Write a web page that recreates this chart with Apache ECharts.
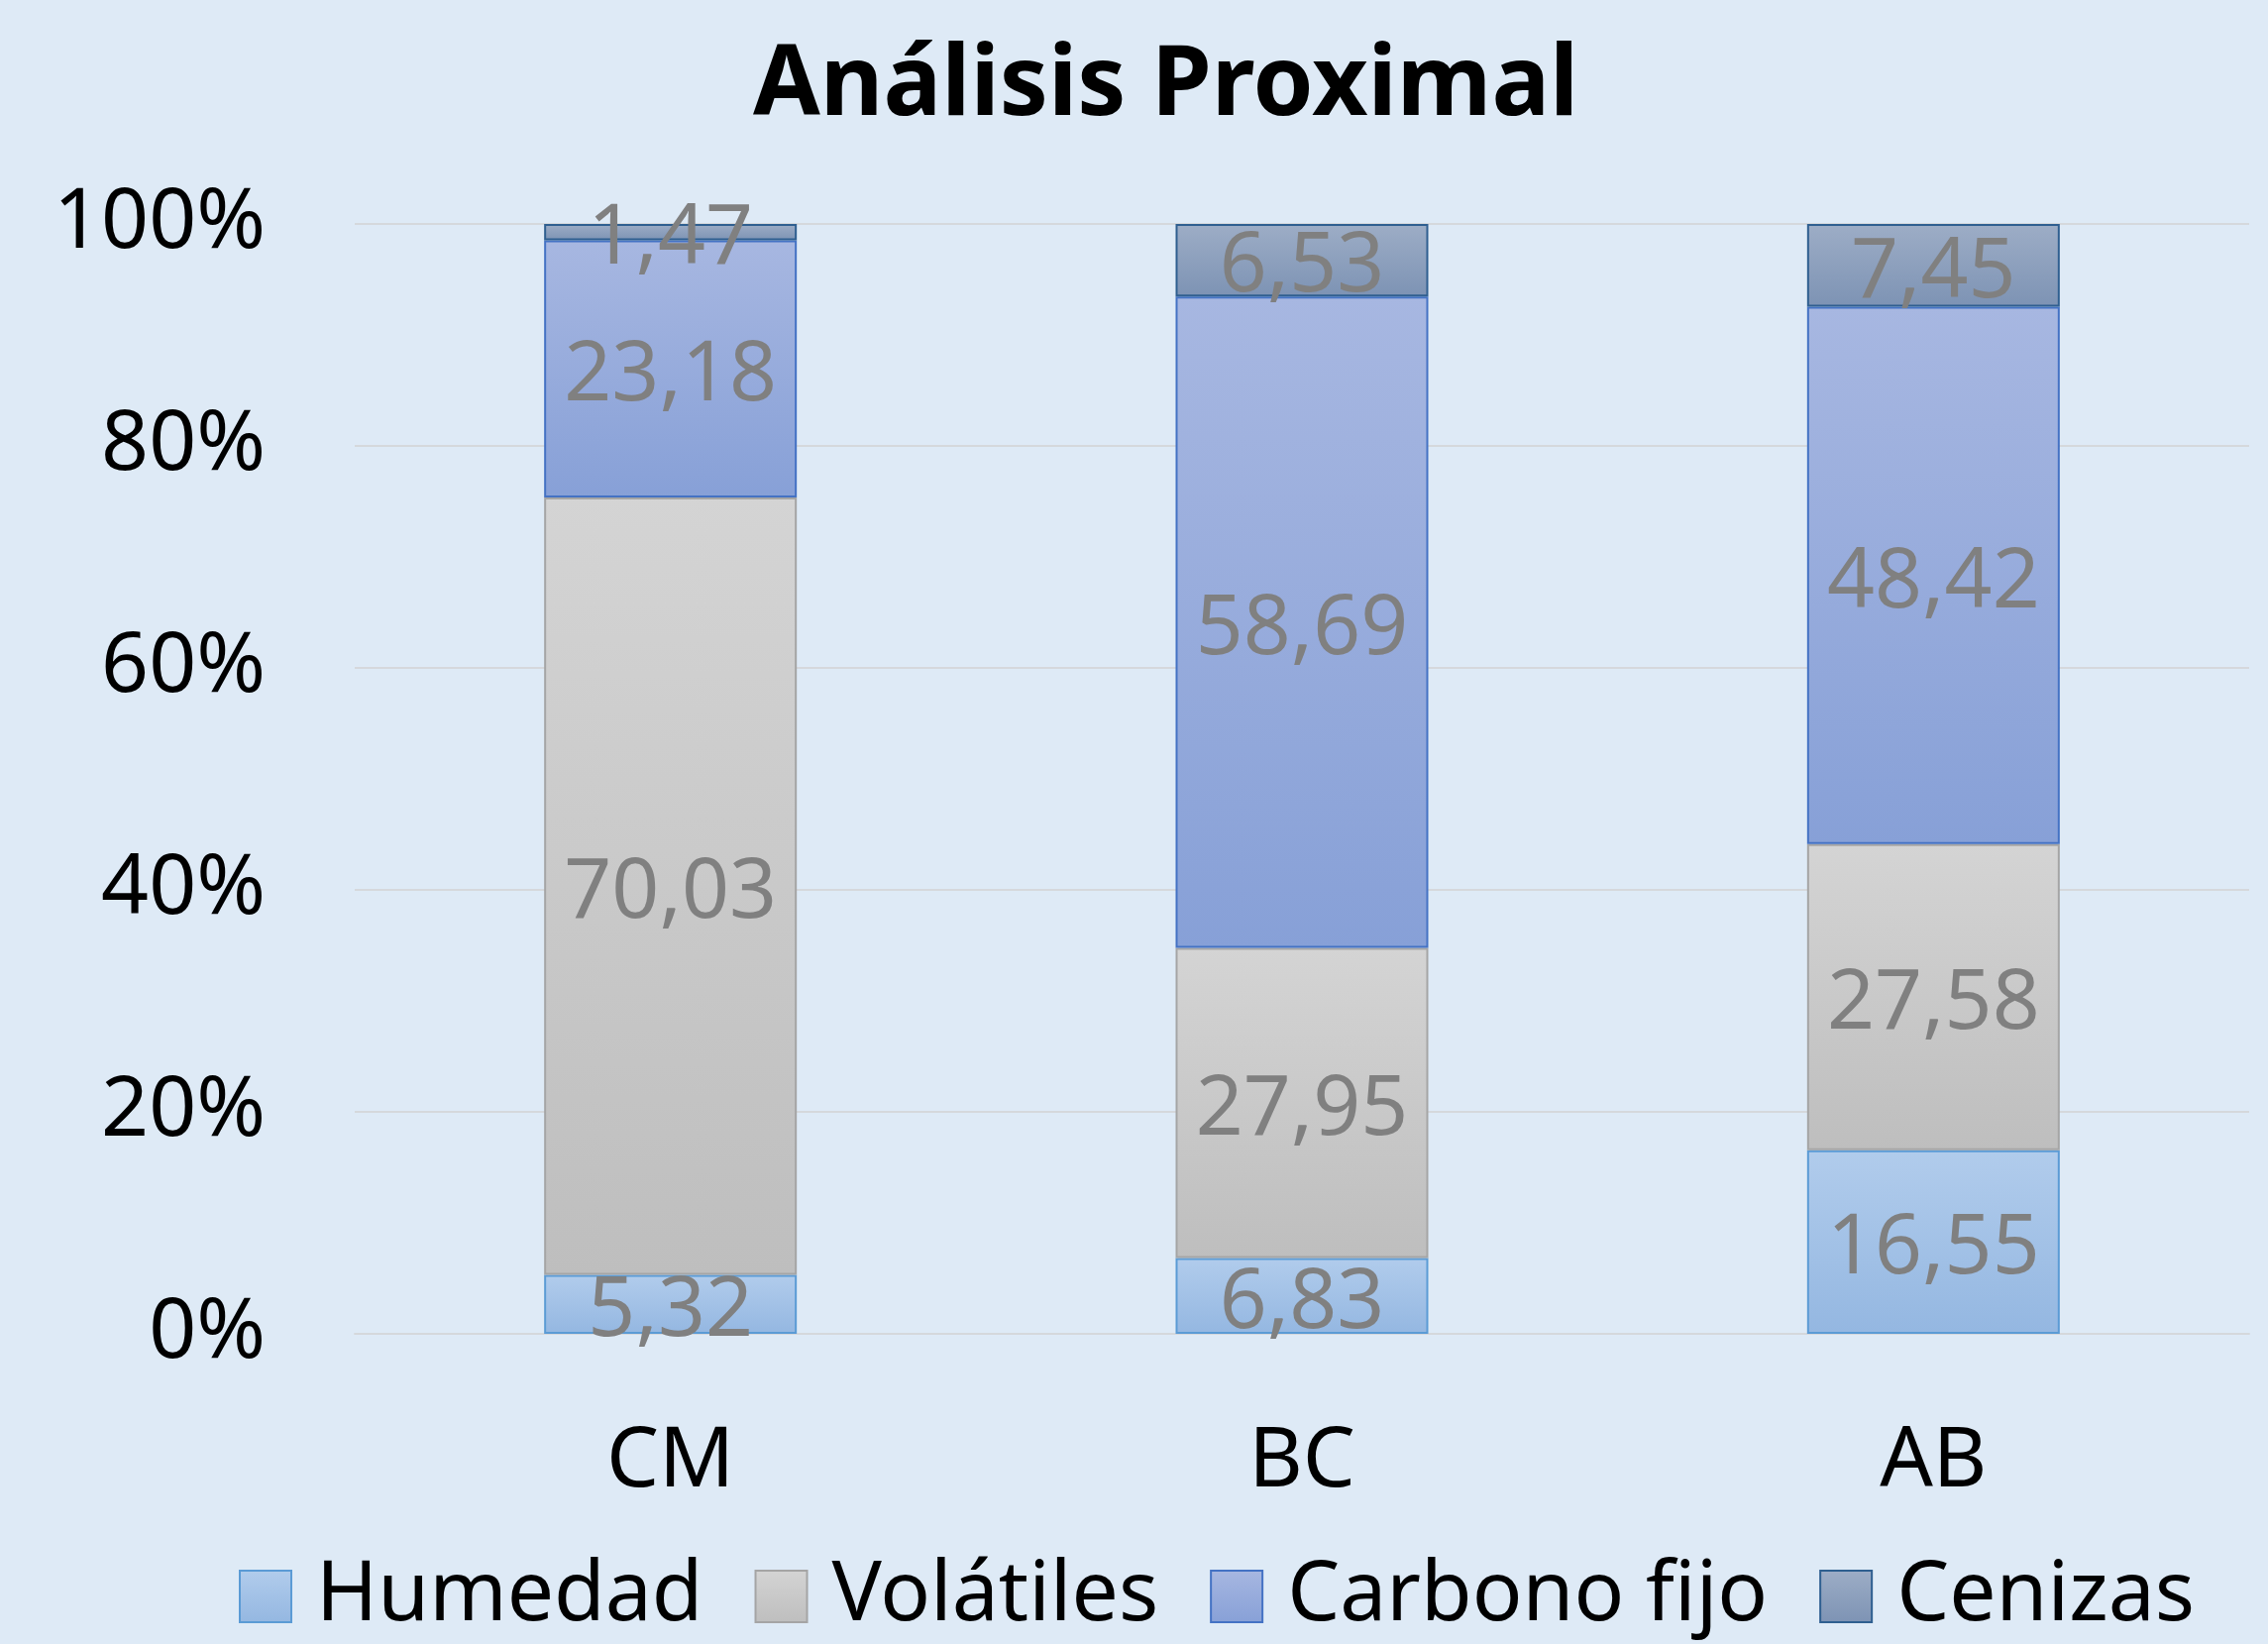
<!DOCTYPE html>
<html><head><meta charset="utf-8">
<script src="https://cdn.jsdelivr.net/npm/echarts@6/dist/echarts.min.js"></script>
<style>html,body{margin:0;padding:0;background:#DEEAF6}#c{width:2289px;height:1659px}</style>
</head><body><div id="c"></div>
<script>
const categories = ['CM', 'BC', 'AB'];
const humedad = [5.32, 6.83, 16.55];
const volatiles = [70.03, 27.95, 27.58];
const carbonoFijo = [23.18, 58.69, 48.42];
const cenizas = [1.47, 6.53, 7.45];
const seriesNames = ['Humedad', 'Volátiles', 'Carbono fijo', 'Cenizas'];
const yTicks = [0, 20, 40, 60, 80, 100];

const FONT = 'Noto Sans';
function grad(a, b) {
  return new echarts.graphic.LinearGradient(0, 0, 0, 1, [{offset: 0, color: a}, {offset: 1, color: b}]);
}
const styles = [
  {c: grad('#B1CCEC', '#94B7E1'), b: '#5B9BD5'},
  {c: grad('#D4D4D4', '#BEBEBE'), b: '#A5A5A5'},
  {c: grad('#A7B7E1', '#87A0D7'), b: '#4472C4'},
  {c: grad('#9DADC6', '#7D93B4'), b: '#2F5F90'}
];
const datas = [humedad, volatiles, carbonoFijo, cenizas];
const chart = echarts.init(document.getElementById('c'), null, {renderer: 'canvas'});
chart.setOption({
  backgroundColor: '#DEEAF6',
  animation: false,
  title: {
    text: 'Análisis Proximal', left: 755, top: 34,
    textStyle: {fontFamily: FONT, fontWeight: 'bold', fontSize: 98, color: '#000'}
  },
  legend: {
    top: 1564, left: 236, itemWidth: 52, itemHeight: 52, itemGap: 52,
    icon: 'rect',
    textStyle: {fontFamily: FONT, fontSize: 84, color: '#000', padding: [0, 0, 0, 20]},
    data: seriesNames
  },
  grid: {left: 358, right: 19, top: 226, bottom: 313},
  xAxis: {
    type: 'category', data: categories,
    axisLine: {lineStyle: {color: '#D5D8DC', width: 2}},
    axisTick: {show: false},
    axisLabel: {fontFamily: FONT, fontSize: 84, color: '#000', margin: 88}
  },
  yAxis: {
    type: 'value', min: 0, max: 100, interval: 20,
    axisLine: {show: false}, axisTick: {show: false},
    splitLine: {lineStyle: {color: '#D5D8DC', width: 2}},
    axisLabel: {fontFamily: FONT, fontSize: 84, color: '#000', margin: 90,
      formatter: v => yTicks.includes(v) ? v + '%' : ''}
  },
  series: datas.map((d, i) => ({
    name: seriesNames[i], type: 'bar', stack: 'total', barWidth: 255,
    data: d,
    itemStyle: {color: styles[i].c, borderColor: styles[i].b, borderWidth: 2},
    label: {
      show: true, position: 'inside', fontFamily: FONT, fontSize: 84, color: '#808080',
      offset: [0, 8],
      formatter: p => p.value.toFixed(2).replace('.', ',')
    }
  }))
});
</script></body></html>
